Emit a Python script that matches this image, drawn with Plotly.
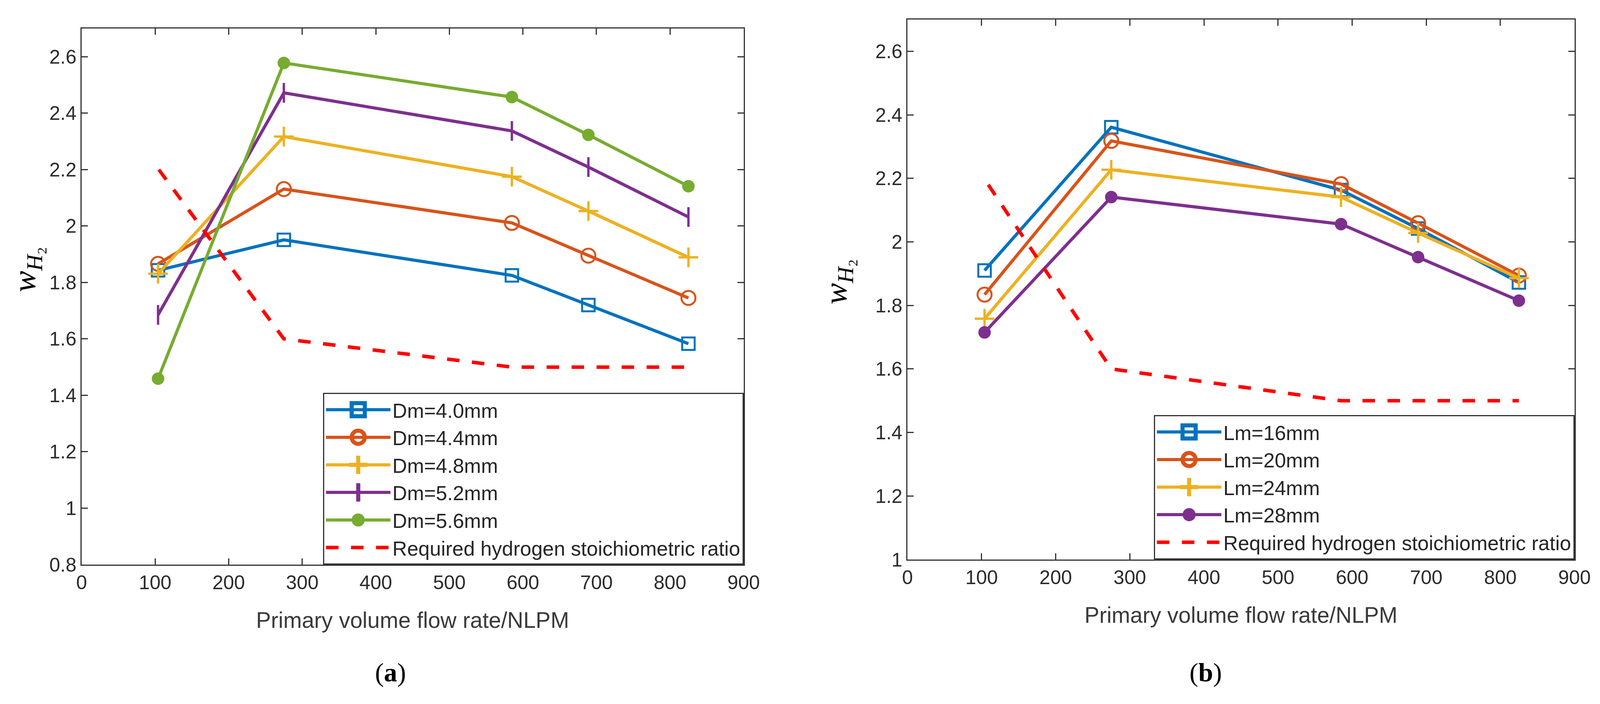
import plotly.graph_objects as go

# ---------------- data ----------------
flow_rate = [104, 275, 585, 689, 825]

dm_labels = ["Dm=4.0mm", "Dm=4.4mm", "Dm=4.8mm", "Dm=5.2mm", "Dm=5.6mm"]
dm_40 = [1.843, 1.951, 1.825, 1.720, 1.583]
dm_44 = [1.866, 2.131, 2.011, 1.895, 1.745]
dm_48 = [1.831, 2.317, 2.175, 2.053, 1.889]
dm_52 = [1.685, 2.472, 2.337, 2.209, 2.032]
dm_56 = [1.459, 2.578, 2.457, 2.323, 2.141]
req_x_a = [105, 275, 585, 689, 825]
req_y_a = [2.20, 1.60, 1.50, 1.50, 1.50]

lm_labels = ["Lm=16mm", "Lm=20mm", "Lm=24mm", "Lm=28mm"]
lm_16 = [1.910, 2.361, 2.163, 2.042, 1.872]
lm_20 = [1.834, 2.318, 2.182, 2.059, 1.894]
lm_24 = [1.758, 2.227, 2.141, 2.028, 1.886]
lm_28 = [1.715, 2.141, 2.056, 1.952, 1.815]
req_x_b = [109, 275, 585, 689, 825]
req_y_b = [2.18, 1.60, 1.50, 1.50, 1.50]

req_label = "Required hydrogen stoichiometric ratio"
x_ticks = [0, 100, 200, 300, 400, 500, 600, 700, 800, 900]
y_ticks_a = [0.8, 1.0, 1.2, 1.4, 1.6, 1.8, 2.0, 2.2, 2.4, 2.6]
y_ticks_b = [1.0, 1.2, 1.4, 1.6, 1.8, 2.0, 2.2, 2.4, 2.6]

# ---------------- styles ----------------
W, H = 4198, 1803
BLUE, ORANGE, YELLOW, PURPLE, GREEN = "#0072BD", "#D95319", "#EDB120", "#7E2F8E", "#77AC30"
RED = "#FF0000"
AXC = "#333333"
FONT = "Liberation Sans, Arial, sans-serif"
SERIF = "Liberation Serif, Times New Roman, serif"

def px_x(p):
    return p / W

def px_y(p):
    return 1 - p / H

fig = go.Figure()

styles_a = [
    (BLUE, "square-open", 32, 5),
    (ORANGE, "circle-open", 36, 5),
    (YELLOW, "cross-thin-open", 36, 6),
    (PURPLE, "line-ns-open", 36, 6),
    (GREEN, "circle", 32, 0),
]
for name, vals, (c, sym, sz, lw) in zip(dm_labels, [dm_40, dm_44, dm_48, dm_52, dm_56], styles_a):
    fig.add_trace(go.Scatter(
        x=flow_rate, y=vals, name=name, mode="lines+markers",
        line=dict(color=c, width=8),
        marker=dict(symbol=sym, size=sz, color=c, line=dict(color=c, width=lw)),
        xaxis="x", yaxis="y", legend="legend",
    ))
fig.add_trace(go.Scatter(
    x=req_x_a, y=req_y_a, name=req_label, mode="lines",
    line=dict(color=RED, width=9, dash="32px,32px"),
    xaxis="x", yaxis="y", legend="legend",
))

styles_b = [
    (BLUE, "square-open", 32, 5),
    (ORANGE, "circle-open", 36, 5),
    (YELLOW, "cross-thin-open", 36, 6),
    (PURPLE, "circle", 32, 0),
]
for name, vals, (c, sym, sz, lw) in zip(lm_labels, [lm_16, lm_20, lm_24, lm_28], styles_b):
    fig.add_trace(go.Scatter(
        x=flow_rate, y=vals, name=name, mode="lines+markers",
        line=dict(color=c, width=8),
        marker=dict(symbol=sym, size=sz, color=c, line=dict(color=c, width=lw)),
        xaxis="x2", yaxis="y2", legend="legend2",
    ))
fig.add_trace(go.Scatter(
    x=req_x_b, y=req_y_b, name=req_label, mode="lines",
    line=dict(color=RED, width=9, dash="32px,32px"),
    xaxis="x2", yaxis="y2", legend="legend2",
))

axis_common = dict(
    showline=True, linecolor=AXC, linewidth=3, mirror="ticks",
    ticks="inside", ticklen=16, tickwidth=3, tickcolor=AXC,
    showgrid=False, zeroline=False, automargin=False,
    tickfont=dict(family=FONT, size=50, color="#2b2b2b"),
)

xa_dom = [px_x(214), px_x(1951)]
ya_dom = [px_y(1446), px_y(73)]
xb_dom = [px_x(2381), px_x(4131)]
yb_dom = [px_y(1433), px_y(50)]

xtitle = dict(text="Primary volume flow rate/NLPM", font=dict(family=FONT, size=57, color="#3a3a3a"), standoff=50)

legend_common = dict(
    xanchor="right", yanchor="bottom",
    bgcolor="white", bordercolor=AXC, borderwidth=3,
    font=dict(family=FONT, size=52, color="#262626"),
    itemwidth=165, tracegroupgap=0,
)

fig.update_layout(
    width=W, height=H,
    margin=dict(l=0, r=0, t=0, b=0, autoexpand=False),
    paper_bgcolor="white", plot_bgcolor="white",
    showlegend=True,
    xaxis=dict(domain=xa_dom, range=[0, 900], tickvals=x_ticks, anchor="y", title=xtitle, **axis_common),
    yaxis=dict(domain=ya_dom, range=[0.8, 2.7], tickvals=y_ticks_a, anchor="x", **axis_common),
    xaxis2=dict(domain=xb_dom, range=[0, 900], tickvals=x_ticks, anchor="y2", title=xtitle, **axis_common),
    yaxis2=dict(domain=yb_dom, range=[1.0, 2.7], tickvals=y_ticks_b, anchor="x2", **axis_common),
    legend=dict(x=xa_dom[1], y=ya_dom[0], **legend_common),
    legend2=dict(x=xb_dom[1], y=yb_dom[0], **legend_common),
    annotations=[
        dict(text="<i>w</i><sub><i>H</i>₂</sub>", xref="paper", yref="paper",
             x=px_x(70), y=px_y(690), xanchor="center", yanchor="middle",
             textangle=-90, showarrow=False,
             font=dict(family=SERIF, size=82, color="black")),
        dict(text="<i>w</i><sub><i>H</i>₂</sub>", xref="paper", yref="paper",
             x=px_x(2198), y=px_y(722), xanchor="center", yanchor="middle",
             textangle=-90, showarrow=False,
             font=dict(family=SERIF, size=82, color="black")),
        dict(text="(<b>a</b>)", xref="paper", yref="paper",
             x=px_x(1024), y=px_y(1722), xanchor="center", yanchor="middle",
             showarrow=False,
             font=dict(family=SERIF, size=68, color="black")),
        dict(text="(<b>b</b>)", xref="paper", yref="paper",
             x=px_x(3163), y=px_y(1722), xanchor="center", yanchor="middle",
             showarrow=False,
             font=dict(family=SERIF, size=68, color="black")),
    ],
)

# fit the figure to the real viewport (the browser may clamp the window width)
post = """
document.documentElement.style.margin = '0';
document.documentElement.style.overflow = 'hidden';
document.body.style.margin = '0';
document.body.style.padding = '0';
document.body.style.overflow = 'hidden';
var gd = document.getElementById('{plot_id}');
function bigLegendMarkers() {
  document.querySelectorAll('.legendpoints path.scatterpts').forEach(function(p){
    var t = p.getAttribute('transform') || '';
    if (t.indexOf('scale') < 0) { p.setAttribute('transform', t + ' scale(2.1)'); }
  });
}
var vw = document.documentElement.clientWidth || window.innerWidth;
var vh = document.documentElement.clientHeight || window.innerHeight;
if (vw > 0 && vh > 0 && (Math.abs(vw - 4198) > 1 || Math.abs(vh - 1803) > 1)) {
  Plotly.relayout(gd, {width: vw, height: vh}).then(bigLegendMarkers);
} else {
  bigLegendMarkers();
}
"""

fig.write_html("out.html", post_script=post, config={"displayModeBar": False})
